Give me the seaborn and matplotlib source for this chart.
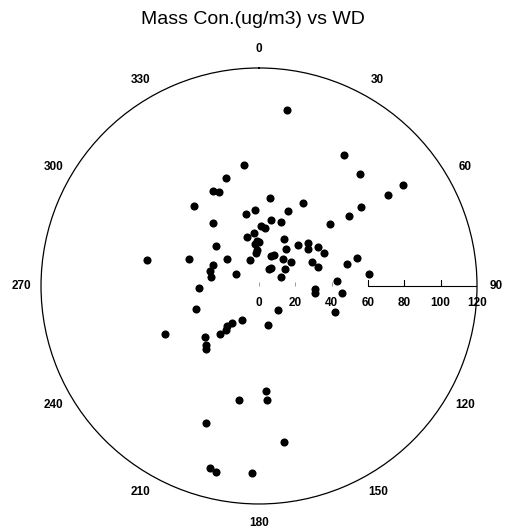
import numpy as np
import matplotlib
matplotlib.use("Agg")
import matplotlib.pyplot as plt
import seaborn as sns

sns.set_style("white")
plt.rcParams["font.family"] = ["Liberation Sans", "DejaVu Sans"]
plt.rcParams["text.color"] = "black"

# wind direction (deg, clockwise from north) and mass concentration (ug/m3)
wind_dir = [9, 33, 353, 42, 343, 55, 334, 337, 55, 7, 28, 321, 52, 357, 350,
            21, 52, 10, 19, 324, 49, 2, 6, 355, 346, 358, 0, 354, 357, 354,
            28, 313, 44, 49, 53, 57, 63, 36, 22, 26, 41, 283, 291, 310, 340,
            74, 54, 76, 66, 72, 294, 287, 280, 297, 30, 34, 56, 67, 84, 86,
            268, 93, 97, 95, 250, 141, 109, 207, 216, 219, 217, 219, 167, 243,
            227, 222, 220, 176, 176, 190, 201, 171, 195, 193, 182]
mass_conc = [98, 86, 67, 83, 62, 97, 58, 56, 87, 49, 52, 57, 71, 42, 40,
             44, 63, 37, 37, 43, 52, 33, 32, 29, 28, 25, 24, 23, 20, 18,
             29, 32, 31, 36, 34, 39, 40, 25, 18, 19, 20, 63, 41, 23, 15,
             56, 22, 50, 32, 34, 28, 28, 27, 14, 11, 12, 17, 13, 61, 43,
             33, 31, 31, 46, 37, 17, 44, 21, 25, 28, 30, 34, 22, 58,
             41, 44, 45, 58, 63, 64, 81, 87, 104, 105, 103]

angle_ticks = [0, 30, 60, 90, 120, 150, 180, 210, 240, 270, 300, 330]
radial_ticks = [0, 20, 40, 60, 80, 100, 120]

fig = plt.figure(figsize=(5.05, 5.29), dpi=100)
ax = fig.add_axes([0.0812, 0.0473, 0.8634, 0.8242], projection="polar")
ax.set_theta_zero_location("N")
ax.set_theta_direction(-1)

sns.scatterplot(x=np.deg2rad(wind_dir), y=mass_conc, ax=ax, color="black",
                s=34, linewidth=0, legend=False, zorder=3)

ax.set_ylim(0, 120)
ax.grid(False)
ax.set_yticks([])
ax.set_thetagrids(angle_ticks, [str(a) for a in angle_ticks],
                  fontsize=8.5, fontweight="bold", color="black")
ax.tick_params(axis="x", direction="out", length=4, width=0.8, pad=3,
               colors="black")
ax.spines["polar"].set_linewidth(0.9)
ax.spines["polar"].set_color("black")
ax.set_xlabel("")
ax.set_ylabel("")

# radial scale drawn along the 90 degree direction
east = np.pi / 2
ax.plot([east, east], [60, 120], color="black", lw=0.8, zorder=2)
ax.plot(np.full(3, east), radial_ticks[3:6], linestyle="none", marker=2,
        ms=4, mew=0.8, color="black")
ax.plot(np.full(3, east), radial_ticks[:3], linestyle="none", marker=2,
        ms=3, mew=0.6, color="0.55")
for v in radial_ticks:
    ax.annotate(str(v), xy=(east, v), xytext=(0, -12.5), textcoords="offset points",
                ha="center", va="center", fontsize=8.5, fontweight="bold",
                color="black")

fig.text(0.5, 1 - 19 / 529, "Mass Con.(ug/m3) vs WD", ha="center",
         va="center", fontsize=14, color="black")

fig.savefig("out.png", dpi=100, facecolor="white")
